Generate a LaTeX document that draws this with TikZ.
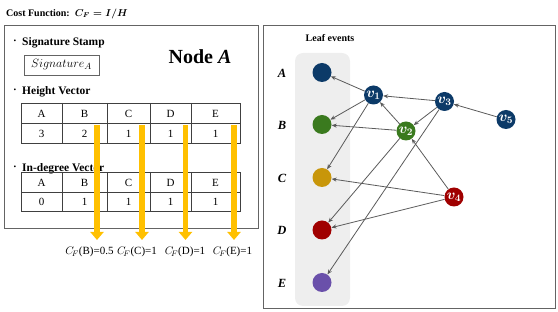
\documentclass[tikz,border=0pt]{standalone}
\usepackage{fontspec}
\setmainfont{Liberation Serif}
\usetikzlibrary{arrows.meta}
\definecolor{navy}{RGB}{12,58,104}
\definecolor{leafgreen}{RGB}{58,122,30}
\definecolor{leafgold}{RGB}{200,150,10}
\definecolor{leafred}{RGB}{160,0,0}
\definecolor{leafpurple}{RGB}{106,80,170}
\definecolor{panelgray}{RGB}{238,238,238}
\definecolor{edgegray}{RGB}{90,90,90}
\definecolor{boxgray}{RGB}{100,100,100}
\definecolor{ygold}{RGB}{255,192,0}
\tikzset{
  panel/.style={draw=boxgray, line width=0.9pt},
  tline/.style={draw=black!75, line width=0.7pt},
  cell/.style={inner sep=0pt, font=\fontsize{11}{11}\selectfont},
  heading/.style={inner sep=0pt, anchor=west, font=\fontsize{11.5}{12}\selectfont\bfseries},
  bul/.style={inner sep=0pt, font=\fontsize{11}{11}\selectfont\bfseries},
  ev/.style={circle, minimum size=19pt, inner sep=0pt, text=white, font=\fontsize{14}{14}\selectfont\boldmath},
  rowlab/.style={inner sep=0pt, font=\fontsize{12.5}{13}\selectfont\bfseries\itshape},
  edge/.style={draw=edgegray, line width=0.8pt, -{Stealth[length=5pt,width=4pt]}},
  yarrow/.style={draw=ygold, line width=5.5pt, -{Triangle[width=13pt,length=8pt]}},
  cflab/.style={inner sep=0pt, font=\fontsize{11}{11}\selectfont},
}
\newcommand{\cfsym}{$C_{\!F}$}
\begin{document}
\begin{tikzpicture}[x=1pt,y=-1pt]
\useasboundingbox (0,0) rectangle (558,312);
% title
\node[inner sep=0pt, anchor=west, font=\fontsize{10}{10}\selectfont\bfseries] (title) at (6,14) {Cost Function:\ \ {\boldmath$C_F = I/H$}};
% left panel
\draw[panel] (4,25) rectangle (258,228);
\node[bul] (b1) at (15,42) {·};
\node[heading] (h1) at (22,43) {Signature Stamp};
\draw[draw=boxgray, line width=0.8pt] (24,55) rectangle (99,75);
\node[inner sep=0pt, font=\fontsize{12.3}{12.3}\selectfont] (sig) at (61.5,65) {$Signature_A$};
\node[inner sep=0pt, font=\fontsize{20}{20}\selectfont\bfseries] (nodeA) at (200,57) {Node \textit{A}};
\node[bul] (b2) at (15,91) {·};
\node[heading] (h2) at (22,92) {Height Vector};
\node[bul] (b3) at (15,168) {·};
\node[heading] (h3) at (22,169) {In-degree Vector};
% tables
\foreach \t/\ya/\yb/\yc in {1/103/123/143, 2/172/192/211}{
  \draw[tline] (21,\ya) rectangle (240,\yc);
  \draw[tline] (21,\yb) -- (240,\yb);
  \foreach \cx in {62,107,150,191}{ \draw[tline] (\cx,\ya) -- (\cx,\yc); }
}
\foreach \lab/\cx in {A/41.5,B/84.5,C/128.5,D/170.5,E/215.5}{
  \node[cell] (ht\lab) at (\cx,113.5) {\lab};
  \node[cell] (it\lab) at (\cx,182.5) {\lab};
}
\node[cell] (hvA) at (41.5,133.5) {3};
\node[cell] (hvB) at (84.5,133.5) {2};
\node[cell] (hvC) at (128.5,133.5) {1};
\node[cell] (hvD) at (170.5,133.5) {1};
\node[cell] (hvE) at (215.5,133.5) {1};
\node[cell] (ivA) at (41.5,202) {0};
\node[cell] (ivB) at (84.5,202) {1};
\node[cell] (ivC) at (128.5,202) {1};
\node[cell] (ivD) at (170.5,202) {1};
\node[cell] (ivE) at (215.5,202) {1};
% yellow arrows
\foreach \n/\x in {B/97,C/142,D/185.5,E/234}{
  \coordinate (ys\n) at (\x,125);
  \coordinate (ye\n) at (\x,240);
  \draw[yarrow] (ys\n) -- (ye\n);
}
\node[cflab] (cfB) at (89.5,252) {\cfsym(B)=0.5};
\node[cflab] (cfC) at (137,252) {\cfsym(C)=1};
\node[cflab] (cfD) at (185,252) {\cfsym(D)=1};
\node[cflab] (cfE) at (232.5,252) {\cfsym(E)=1};
% right panel
\draw[panel] (263,25) rectangle (555,308);
\fill[panelgray, rounded corners=8pt] (295,53) rectangle (350,306);
\node[inner sep=0pt, font=\fontsize{10}{10}\selectfont\bfseries] (leaf) at (330,38) {Leaf events};
\node[rowlab] (lA) at (282,73) {A};
\node[rowlab] (lB) at (282,125) {B};
\node[rowlab] (lC) at (282,178) {C};
\node[rowlab] (lD) at (282,230) {D};
\node[rowlab] (lE) at (282,283) {E};
\node[ev, fill=navy] (A) at (322,72.5) {};
\node[ev, fill=leafgreen] (B) at (322,124.5) {};
\node[ev, fill=leafgold] (C) at (322,177.5) {};
\node[ev, fill=leafred] (D) at (322,230) {};
\node[ev, fill=leafpurple] (E) at (322,282.5) {};
\node[ev, fill=navy] (v1) at (373.5,95) {$v_1$};
\node[ev, fill=leafgreen] (v2) at (406,131) {$v_2$};
\node[ev, fill=navy] (v3) at (444.5,101.5) {$v_3$};
\node[ev, fill=leafred] (v4) at (454,197) {$v_4$};
\node[ev, fill=navy] (v5) at (506,119.5) {$v_5$};
\draw[edge] (v1) -- (A);
\draw[edge] (v1) -- (B);
\draw[edge] (v1) -- (C);
\draw[edge] (v2) -- (B);
\draw[edge] (v2) -- (v1);
\draw[edge] (v2) -- (D);
\draw[edge] (v3) -- (v1);
\draw[edge] (v3) -- (v2);
\draw[edge] (v3) -- (E);
\draw[edge] (v5) -- (v3);
\draw[edge] (v4) -- (v2);
\draw[edge] (v4) -- (C);
\draw[edge] (v4) -- (D);
\end{tikzpicture}
\end{document}
